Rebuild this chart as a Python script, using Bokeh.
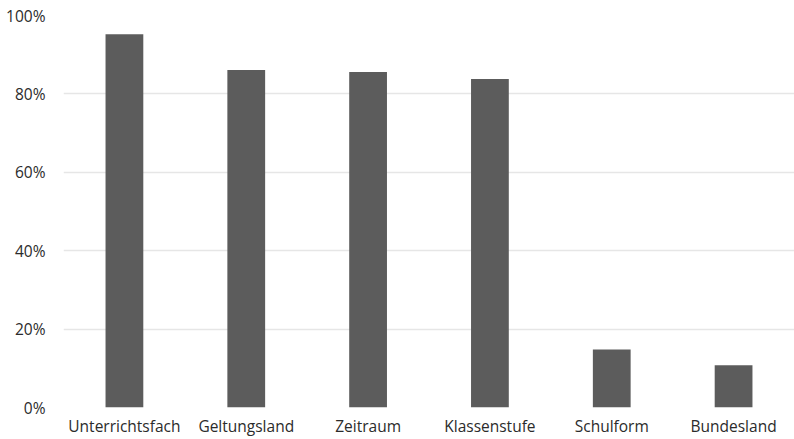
from bokeh.plotting import figure
from bokeh.models import FactorRange, Range1d, NumeralTickFormatter, FixedTicker, ColumnDataSource
from bokeh.embed import file_html
from bokeh.resources import INLINE

categories = ["Unterrichtsfach", "Geltungsland", "Zeitraum", "Klassenstufe", "Schulform", "Bundesland"]
values = [0.952, 0.861, 0.856, 0.838, 0.148, 0.108]
y_ticks = [0, 0.2, 0.4, 0.6, 0.8, 1.0]

src = ColumnDataSource(dict(cat=categories, val=values))

p = figure(width=794, height=439, output_backend="svg", toolbar_location=None,
           x_range=FactorRange(factors=categories, range_padding=0),
           y_range=Range1d(0, 1.0),
           min_border_left=63, min_border_right=0, min_border_top=15, min_border_bottom=29,
           outline_line_color=None)

p.vbar(x="cat", top="val", width=0.31, source=src, fill_color="#5c5c5c", line_color=None)

p.yaxis.ticker = FixedTicker(ticks=y_ticks)
p.yaxis.formatter = NumeralTickFormatter(format="0%")
for ax in (p.xaxis, p.yaxis):
    ax.axis_line_color = None
    ax.major_tick_line_color = None
    ax.minor_tick_line_color = None
    ax.major_tick_in = 0
    ax.major_tick_out = 0
    ax.minor_tick_in = 0
    ax.minor_tick_out = 0
    ax.major_label_text_font = "Open Sans"
    ax.major_label_text_font_size = "15.5px"
    ax.major_label_text_color = "#2b2b2b"
p.xaxis.major_label_standoff = 7
p.yaxis.major_label_standoff = 18
p.xgrid.grid_line_color = None
p.ygrid.grid_line_color = "#e6e6e6"
p.ygrid.grid_line_width = 1.5
p.ygrid.ticker = FixedTicker(ticks=y_ticks)

open("out.html", "w").write(file_html(p, INLINE))
